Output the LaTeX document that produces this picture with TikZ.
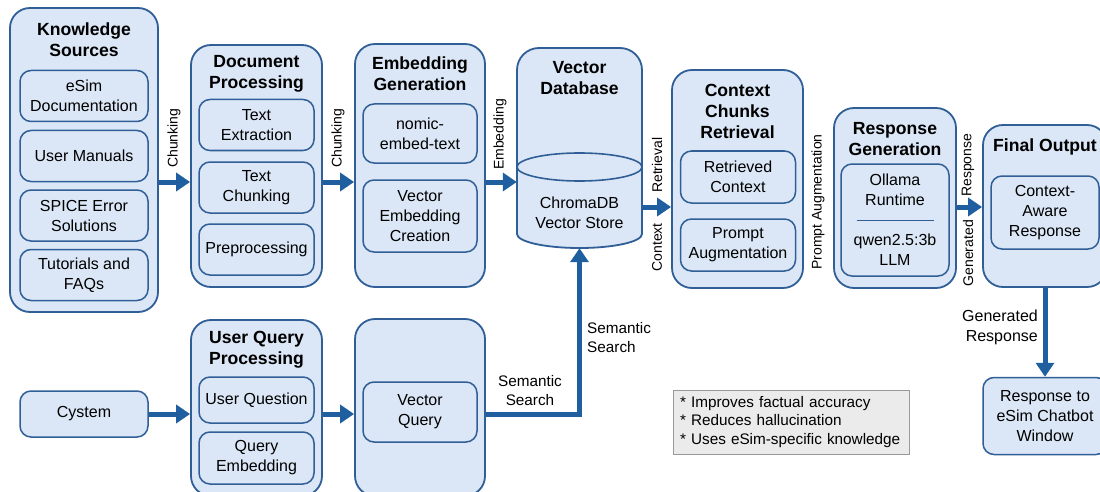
\documentclass[tikz,border=0pt]{standalone}
\usepackage{fontspec}
\setmainfont{Liberation Sans}
\usetikzlibrary{arrows.meta}

\begin{document}
\begin{tikzpicture}[x=1pt, y=-1pt,
  font=\fontsize{16}{20}\selectfont,
  grp/.style={draw=cB, fill=cF, line width=1.8pt, rounded corners=20pt},
  sub/.style={draw=cB, fill=cF, line width=1.5pt, rounded corners=11pt, align=center, inner sep=2pt},
  ttl/.style={font=\bfseries\fontsize{17.6}{21}\selectfont, align=center, inner sep=0pt},
  flow/.style={cA, line width=5pt, -{Triangle[length=14pt, width=18pt]}},
  rlab/.style={rotate=90, font=\fontsize{14}{16}\selectfont, inner sep=0pt},
  slab/.style={font=\fontsize{15.3}{19}\selectfont, inner sep=0pt}]

\definecolor{cB}{HTML}{2F5F96}
\definecolor{cF}{HTML}{DBE7F6}
\definecolor{cA}{HTML}{1F5FA0}

\useasboundingbox (0,0) rectangle (1100,492);
\fill[white] (0,0) rectangle (1100,492);

\coordinate (r1) at (0,182);
\coordinate (r2) at (0,207);

%% Knowledge Sources
\node[grp, minimum width=148pt, minimum height=304pt] (ks) at (84,160) {};
\node[ttl] (ks-t) at (84,40) {Knowledge\\Sources};
\node[sub, minimum width=128pt, minimum height=51pt] (ks1) at (84,96) {eSim\\Documentation};
\node[sub, minimum width=128pt, minimum height=51pt] (ks2) at (84,156) {User Manuals};
\node[sub, minimum width=128pt, minimum height=51pt] (ks3) at (84,215.5) {SPICE Error\\Solutions};
\node[sub, minimum width=128pt, minimum height=51pt] (ks4) at (84,275) {Tutorials and\\FAQs};

%% Document Processing
\node[grp, minimum width=131pt, minimum height=242pt] (dp) at (256.5,166) {};
\node[ttl] (dp-t) at (256.5,74) {Document\\Processing};
\node[sub, minimum width=115pt, minimum height=51pt] (dp1) at (256.5,125) {Text\\Extraction};
\node[sub, minimum width=115pt, minimum height=51pt] (dp2) at (256.5,187.5) {Text\\Chunking};
\node[sub, minimum width=115pt, minimum height=51pt] (dp3) at (256.5,249.5) {Preprocessing};

%% Embedding Generation
\node[grp, minimum width=130pt, minimum height=243pt] (eg) at (420,165.5) {};
\node[ttl] (eg-t) at (420,74) {Embedding\\Generation};
\node[sub, minimum width=114pt, minimum height=59pt] (eg1) at (420,133.5) {nomic-\\embed-text};
\node[sub, minimum width=114pt, minimum height=72pt] (eg2) at (420,216) {Vector\\Embedding\\Creation};

%% Vector Database (cylinder)
\node[minimum width=125pt, minimum height=200pt, inner sep=0pt] (vdb) at (579.5,148) {};
\draw[draw=cB, fill=cF, line width=1.8pt] (517,234) -- (517,70)
  arc[start angle=180, end angle=90, radius=22pt] -- (620,48)
  arc[start angle=90, end angle=0, radius=22pt] -- (642,234)
  arc[start angle=0, end angle=-180, x radius=62.5pt, y radius=14pt] -- cycle;
\draw[cB, line width=1.6pt] (579.5,167) ellipse [x radius=62.5pt, y radius=14pt];
\node[ttl] (vdb-t) at (579.5,78) {Vector\\Database};
\node[align=center] (vdb-s) at (579.5,213) {ChromaDB\\Vector Store};

%% Context Chunks Retrieval
\node[grp, minimum width=131pt, minimum height=218pt] (ccr) at (737.5,179) {};
\node[ttl] (ccr-t) at (737.5,111) {Context\\Chunks\\Retrieval};
\node[sub, minimum width=115pt, minimum height=52pt] (ccr1) at (738,177) {Retrieved\\Context};
\node[sub, minimum width=115pt, minimum height=52pt] (ccr2) at (738,245) {Prompt\\Augmentation};

%% Response Generation
\node[grp, minimum width=122pt, minimum height=180pt] (rg) at (895,198) {};
\node[ttl] (rg-t) at (895,139) {Response\\Generation};
\node[sub, minimum width=108pt, minimum height=112pt] (rg1) at (895,220)
  {Ollama\\Runtime\\\textcolor{cB}{\rule[5pt]{77pt}{0.8pt}}\\qwen2.5:3b\\LLM};

%% Final Output
\node[grp, minimum width=124pt, minimum height=162pt] (fo) at (1045,206) {};
\node[ttl] (fo-t) at (1045,147) {Final Output};
\node[sub, minimum width=108pt, minimum height=73pt] (fo1) at (1045,212.5) {Context-\\Aware\\Response};
\node[sub, minimum width=124pt, minimum height=77pt] (resp) at (1045,416) {Response to\\eSim Chatbot\\Window};

%% query path
\node[sub, minimum width=128pt, minimum height=46pt] (cys) at (84,414) {Cystem};
\node[grp, minimum width=131pt, minimum height=176pt] (uqp) at (256.5,408) {};
\node[ttl] (uqp-t) at (256.5,350) {User Query\\Processing};
\node[sub, minimum width=115pt, minimum height=46pt] (uqp1) at (256.5,400) {User Question};
\node[sub, minimum width=115pt, minimum height=52pt] (uqp2) at (256.5,458) {Query\\Embedding};
\node[grp, minimum width=130pt, minimum height=177pt] (vq) at (420,407.5) {};
\node[sub, minimum width=114pt, minimum height=60pt] (vq1) at (420,412) {Vector\\Query};

%% note
\node[draw=black!40, fill=black!8, line width=1pt, text width=222pt, inner xsep=7pt,
  minimum height=64pt, align=left, font=\fontsize{15.3}{18.5}\selectfont] (note) at (791,422)
  {{*} Improves factual accuracy\\{*} Reduces hallucination\\{*} Uses eSim-specific knowledge};

%% connectors
\draw[flow] (ks.east |- r1) -- (dp.west |- r1);
\draw[flow] (dp.east |- r1) -- (eg.west |- r1);
\draw[flow] (eg.east |- r1) -- (vdb.west |- r1);
\draw[flow] (vdb.east |- r2) -- (ccr.west |- r2);
\draw[flow] (rg.east |- r2) -- (fo.west |- r2);
\draw[flow] (fo.south) -- (resp.north);
\draw[flow] (cys.east) -- (uqp.west |- cys.east);
\draw[flow] (uqp.east |- cys.east) -- (vq.west |- cys.east);
\draw[flow] (vq.east |- cys.east) -| (vdb.south);

%% connector labels
\node[rlab, anchor=west] (l-chk1) at (174,168) {Chunking};
\node[rlab, anchor=west] (l-chk2) at (338,168) {Chunking};
\node[rlab, anchor=west] (l-emb) at (500,170) {Embedding};
\node[rlab, anchor=west] (l-ret) at (657,193) {Retrieval};
\node[rlab, anchor=east] (l-ctx) at (657,223) {Context};
\node[rlab] (l-pa) at (818,202) {Prompt Augmentation};
\node[rlab, anchor=west] (l-rsp) at (968,197) {Response};
\node[rlab, anchor=east] (l-gen) at (968,220) {Generated};
\node[slab, align=center] (l-ss1) at (530,391) {Semantic\\Search};
\node[slab, align=left, anchor=west] (l-ss2) at (587,338) {Semantic\\Search};
\node[align=right, anchor=east, inner sep=0pt] (l-gr) at (1038,327) {Generated\\Response};

\end{tikzpicture}
\end{document}
